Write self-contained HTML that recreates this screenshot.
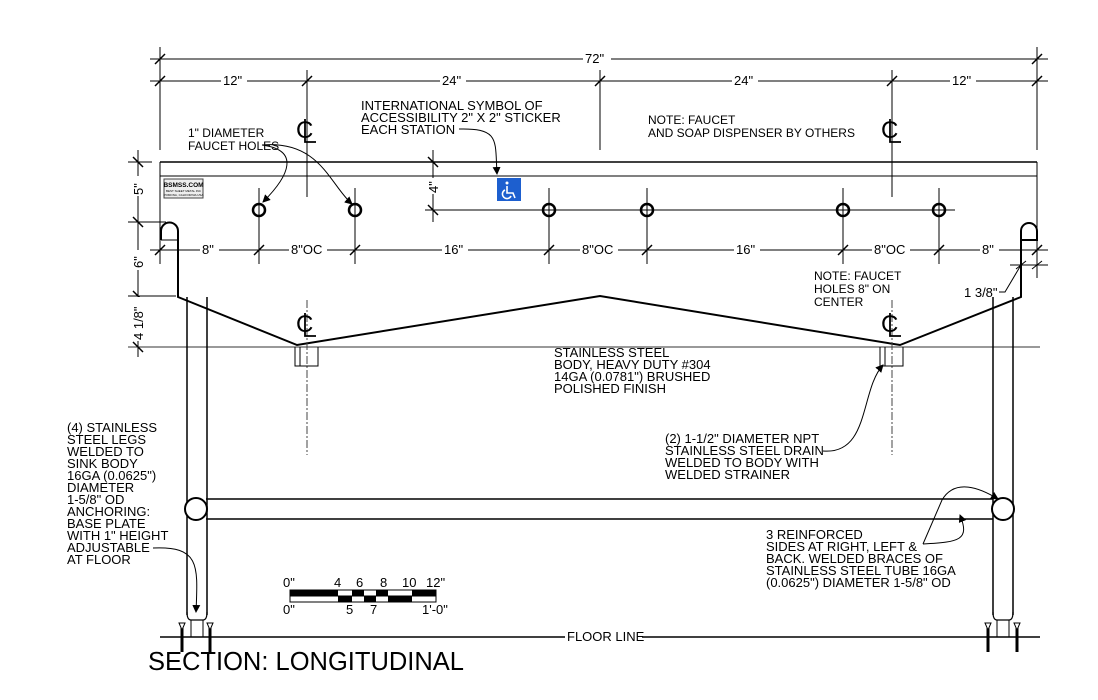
<!DOCTYPE html>
<html><head><meta charset="utf-8"><style>
html,body{margin:0;padding:0;background:#fff;}
svg{display:block;}
text{font-family:"Liberation Sans",sans-serif;fill:#000;}
.t{font-size:13px;}
.h{font-size:12px;fill:#555;font-family:"DejaVu Sans Condensed","Liberation Sans Narrow",sans-serif;}
</style></head><body>
<svg width="1098" height="700" viewBox="0 0 1098 700" xmlns="http://www.w3.org/2000/svg">
<defs>
<marker id="ar" markerWidth="8" markerHeight="8" refX="7" refY="4" orient="auto" markerUnits="userSpaceOnUse"><path d="M0,0 L8,4 L0,8 z" fill="#000"/></marker>
</defs>
<g stroke="#000" stroke-width="1" fill="none">
<line x1="150" y1="59" x2="1048" y2="59"/>
<line x1="150" y1="81" x2="1048" y2="81"/>
<line x1="160" y1="47" x2="160" y2="150"/>
<line x1="1037" y1="47" x2="1037" y2="150"/>
<line x1="307" y1="70" x2="307" y2="197"/>
<line x1="600" y1="70" x2="600" y2="150"/>
<line x1="892" y1="70" x2="892" y2="197"/>
<g stroke-width="1.5">
<line x1="155" y1="64" x2="165" y2="54"/><line x1="1032" y1="64" x2="1042" y2="54"/>
<line x1="155" y1="86" x2="165" y2="76"/><line x1="302" y1="86" x2="312" y2="76"/>
<line x1="595" y1="86" x2="605" y2="76"/><line x1="887" y1="86" x2="897" y2="76"/>
<line x1="1032" y1="86" x2="1042" y2="76"/>
</g>
<line x1="160" y1="162" x2="1037" y2="162" stroke-width="1.5"/>
<line x1="160" y1="176" x2="1037" y2="176"/>
<line x1="160" y1="162" x2="160" y2="240"/>
<line x1="1037" y1="162" x2="1037" y2="240"/>
<path d="M161,240 L161,231 A8.5,8.5 0 0 1 178,231 L178,297 L297,345 L600,296 L900,345 L1021,297 L1021,231 A8,8 0 0 1 1037,231 L1037,240 L1021,240" stroke-width="2"/>
<line x1="161" y1="240" x2="178" y2="240"/>
<g stroke-width="2.5">
<circle cx="259" cy="210" r="6"/><circle cx="355" cy="210" r="6"/><circle cx="549" cy="210" r="6"/>
<circle cx="647" cy="210" r="6"/><circle cx="843" cy="210" r="6"/><circle cx="939" cy="210" r="6"/>
</g>
<line x1="425" y1="210" x2="955" y2="210"/>
<line x1="259" y1="188" x2="259" y2="264"/><line x1="355" y1="188" x2="355" y2="264"/>
<line x1="549" y1="188" x2="549" y2="264"/><line x1="647" y1="188" x2="647" y2="264"/>
<line x1="843" y1="188" x2="843" y2="264"/><line x1="939" y1="188" x2="939" y2="264"/>
<line x1="160" y1="240" x2="160" y2="264"/><line x1="1037" y1="240" x2="1037" y2="278"/>
<line x1="150" y1="250" x2="1048" y2="250"/>
<g stroke-width="1.5">
<line x1="155" y1="255" x2="165" y2="245"/><line x1="254" y1="255" x2="264" y2="245"/>
<line x1="350" y1="255" x2="360" y2="245"/><line x1="544" y1="255" x2="554" y2="245"/>
<line x1="642" y1="255" x2="652" y2="245"/><line x1="838" y1="255" x2="848" y2="245"/>
<line x1="934" y1="255" x2="944" y2="245"/><line x1="1032" y1="255" x2="1042" y2="245"/>
</g>
<line x1="1010" y1="265" x2="1048" y2="265"/>
<line x1="1016" y1="269" x2="1026" y2="261"/><line x1="1032" y1="269" x2="1042" y2="261"/>
<path d="M1021,265 L1005,292 L999,292"/>
<line x1="138" y1="150" x2="138" y2="357"/>
<line x1="128" y1="162" x2="152" y2="162"/>
<line x1="128" y1="222" x2="166" y2="222"/>
<line x1="128" y1="296" x2="176" y2="296"/>
<line x1="128" y1="347" x2="1040" y2="347" stroke="#333"/>
<g stroke-width="1.5">
<line x1="133" y1="157" x2="143" y2="167"/><line x1="133" y1="217" x2="143" y2="227"/>
<line x1="133" y1="291" x2="143" y2="301"/><line x1="133" y1="342" x2="143" y2="352"/>
<line x1="428" y1="157" x2="438" y2="167"/><line x1="428" y1="205" x2="438" y2="215"/>
</g>
<line x1="433" y1="150" x2="433" y2="222"/>
<line x1="307" y1="300" x2="307" y2="455" stroke-dasharray="8,2,2,2" stroke="#444"/>
<line x1="892" y1="300" x2="892" y2="455" stroke-dasharray="8,2,2,2" stroke="#444"/>
<path d="M295,347 L295,366 L318,366 L318,347"/><line x1="300" y1="347" x2="300" y2="366"/>
<path d="M880,347 L880,366 L903,366 L903,347"/><line x1="885" y1="347" x2="885" y2="366"/>
<line x1="187" y1="297" x2="187" y2="615" stroke-width="1.5"/>
<line x1="207" y1="297" x2="207" y2="615" stroke-width="1.5"/>
<line x1="993" y1="297" x2="993" y2="615" stroke-width="1.5"/>
<line x1="1013" y1="297" x2="1013" y2="615" stroke-width="1.5"/>
<path d="M187,612 Q187,620 191,620 L203,620 Q207,620 207,612" stroke-width="1.2"/>
<path d="M993,612 Q993,620 997,620 L1009,620 Q1013,620 1013,612" stroke-width="1.2"/>
<path d="M191,620 L191,637 M203,620 L203,637 M997,620 L997,637 M1009,620 L1009,637"/>
<line x1="206" y1="499" x2="993" y2="499" stroke-width="1.5"/>
<line x1="206" y1="519" x2="993" y2="519" stroke-width="1.5"/>
<circle cx="196" cy="509" r="11" stroke-width="2" fill="#fff"/>
<circle cx="1003" cy="509" r="11" stroke-width="2" fill="#fff"/>
<line x1="160" y1="637" x2="565" y2="637" stroke-width="1.5"/>
<line x1="642" y1="637" x2="1040" y2="637" stroke-width="1.5"/>
<g stroke-width="3">
<line x1="182" y1="627" x2="182" y2="652"/><line x1="210" y1="627" x2="210" y2="652"/>
<line x1="988" y1="627" x2="988" y2="652"/><line x1="1017" y1="627" x2="1017" y2="652"/>
</g>
<g stroke-width="1" fill="#fff">
<path d="M179,623 L185,623 L182,630 z"/><path d="M207,623 L213,623 L210,630 z"/>
<path d="M985,623 L991,623 L988,630 z"/><path d="M1014,623 L1020,623 L1017,630 z"/>
</g>
<path d="M262,145 C300,150 290,175 263,202" marker-end="url(#ar)"/>
<path d="M262,145 C320,140 330,185 352,204" marker-end="url(#ar)"/>
<path d="M459,129 C500,128 495,140 497,174" marker-end="url(#ar)"/>
<path d="M823,451 C870,455 860,390 883,365" marker-end="url(#ar)"/>
<path d="M153,548 C200,546 198,565 196,612" marker-end="url(#ar)"/>
<path d="M923,544 C960,542 970,540 960,515" marker-end="url(#ar)"/>
<path d="M923,544 L942,500 C955,478 980,488 998,499" marker-end="url(#ar)"/>
<rect x="290" y="590" width="146" height="12" stroke-width="1"/>
<line x1="290" y1="596" x2="436" y2="596"/>
</g>
<g fill="#000">
<rect x="290" y="590" width="48" height="6"/><rect x="352" y="590" width="12" height="6"/>
<rect x="376" y="590" width="12" height="6"/><rect x="412" y="590" width="24" height="6"/>
<rect x="338" y="596" width="14" height="6"/><rect x="364" y="596" width="12" height="6"/>
<rect x="388" y="596" width="24" height="6"/>
</g>
<rect x="164" y="179" width="39" height="19" fill="#eee" stroke="#444" stroke-width="1"/>
<text x="183.5" y="187" font-size="6.5" text-anchor="middle" font-family="Liberation Serif" font-weight="bold">BSMSS.COM</text>
<text x="183.5" y="192" font-size="3" text-anchor="middle">BEST SHEET METAL INC</text>
<text x="183.5" y="196" font-size="3" text-anchor="middle">POMONA, CALIFORNIA USA</text>
<rect x="497" y="178" width="24" height="23" fill="#1d5fcf"/>
<g stroke="#fff" stroke-width="1.6" fill="none"><circle cx="507" cy="183" r="1.5" fill="#fff" stroke="none"/>
<path d="M507,186 L507,193 L513,193 L515,198"/><path d="M505,190 A4.5,4.5 0 1 0 511,196"/></g>
<g font-size="24" font-family="Liberation Sans">
<text x="296" y="138">C</text><text x="881" y="138">C</text>
<text x="296" y="332">C</text><text x="881" y="332">C</text>
</g>
<g stroke="#000" stroke-width="1.8" fill="none"><path d="M305,119 L305,142 L316,142"/><path d="M890,119 L890,142 L901,142"/><path d="M305,313 L305,336 L316,336"/><path d="M890,313 L890,336 L901,336"/></g>
<g fill="#fff">
<rect x="583" y="52" width="28" height="14"/>
<rect x="221" y="74" width="26" height="14"/><rect x="440" y="74" width="26" height="14"/>
<rect x="732" y="74" width="26" height="14"/><rect x="950" y="74" width="26" height="14"/>
<rect x="200" y="243" width="19" height="14"/><rect x="289" y="243" width="38" height="14"/>
<rect x="442" y="243" width="26" height="14"/><rect x="580" y="243" width="38" height="14"/>
<rect x="734" y="243" width="26" height="14"/><rect x="872" y="243" width="38" height="14"/>
<rect x="980" y="243" width="19" height="14"/>
<rect x="131" y="176" width="14" height="20"/><rect x="131" y="250" width="14" height="20"/><rect x="131" y="297" width="14" height="44"/>
<rect x="426" y="178" width="14" height="16"/>
</g>
<g class="t">
<text x="585" y="63">72"</text>
<text x="223" y="85">12"</text><text x="442" y="85">24"</text><text x="734" y="85">24"</text><text x="952" y="85">12"</text>
<text x="202" y="254">8"</text><text x="291" y="254">8"OC</text><text x="444" y="254">16"</text>
<text x="582" y="254">8"OC</text><text x="736" y="254">16"</text><text x="874" y="254">8"OC</text><text x="982" y="254">8"</text>
<text transform="translate(143,195) rotate(-90)">5"</text>
<text transform="translate(143,268) rotate(-90)">6"</text>
<text transform="translate(143,340) rotate(-90)">4 1/8"</text>
<text transform="translate(438,193) rotate(-90)">4"</text>
<text x="964" y="297">1 3/8"</text>
<text x="361" y="110">INTERNATIONAL SYMBOL OF</text>
<text x="361" y="122">ACCESSIBILITY 2" X 2" STICKER</text>
<text x="361" y="134">EACH STATION</text>
<text x="554" y="357">STAINLESS STEEL</text>
<text x="554" y="369">BODY, HEAVY DUTY #304</text>
<text x="554" y="381">14GA (0.0781") BRUSHED</text>
<text x="554" y="393">POLISHED FINISH</text>
<text x="665" y="443">(2) 1-1/2" DIAMETER NPT</text>
<text x="665" y="455">STAINLESS STEEL DRAIN</text>
<text x="665" y="467">WELDED TO BODY WITH</text>
<text x="665" y="479">WELDED STRAINER</text>
<text x="766" y="539">3 REINFORCED</text>
<text x="766" y="551">SIDES AT RIGHT, LEFT &amp;</text>
<text x="766" y="563">BACK. WELDED BRACES OF</text>
<text x="766" y="575">STAINLESS STEEL TUBE 16GA</text>
<text x="766" y="587">(0.0625") DIAMETER 1-5/8" OD</text>
<text x="67" y="432">(4) STAINLESS</text>
<text x="67" y="444">STEEL LEGS</text>
<text x="67" y="456">WELDED TO</text>
<text x="67" y="468">SINK BODY</text>
<text x="67" y="480">16GA (0.0625")</text>
<text x="67" y="492">DIAMETER</text>
<text x="67" y="504">1-5/8" OD</text>
<text x="67" y="516">ANCHORING:</text>
<text x="67" y="528">BASE PLATE</text>
<text x="67" y="540">WITH 1" HEIGHT</text>
<text x="67" y="552">ADJUSTABLE</text>
<text x="67" y="564">AT FLOOR</text>
<text x="567" y="641">FLOOR LINE</text>
<text x="283" y="587">0"</text><text x="334" y="587">4</text><text x="356" y="587">6</text><text x="380" y="587">8</text><text x="402" y="587">10</text><text x="426" y="587">12"</text>
<text x="283" y="614">0"</text><text x="346" y="614">5</text><text x="370" y="614">7</text><text x="422" y="614">1'-0"</text>
</g>
<g class="h">
<text x="188" y="137">1" DIAMETER</text>
<text x="188" y="150">FAUCET HOLES</text>
<text x="648" y="124">NOTE: FAUCET</text>
<text x="648" y="137">AND SOAP DISPENSER BY OTHERS</text>
<text x="814" y="280">NOTE: FAUCET</text>
<text x="814" y="293">HOLES 8" ON</text>
<text x="814" y="306">CENTER</text>
</g>
<text x="148" y="670" font-size="25.5">SECTION: LONGITUDINAL</text>
</svg>
</body></html>
